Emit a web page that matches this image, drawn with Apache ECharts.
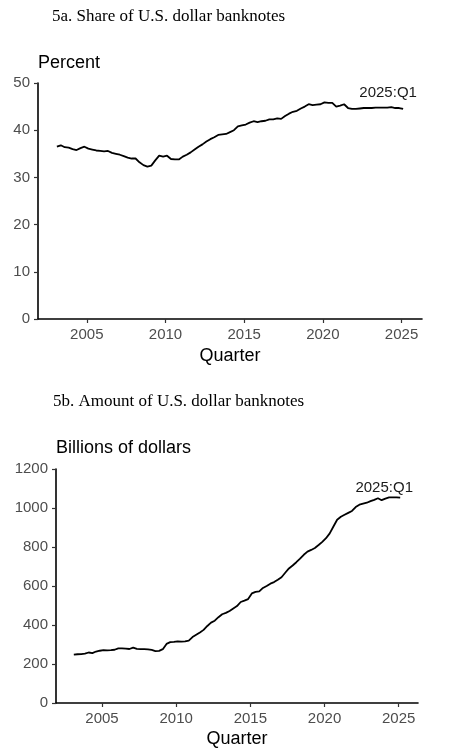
<!DOCTYPE html>
<html>
<head>
<meta charset="utf-8">
<script src="https://cdn.jsdelivr.net/npm/echarts@6/dist/echarts.min.js"></script>
<style type="text/css">
    html, body {
        margin: 0;
        padding: 0;
        background: #ffffff;
    }
    #chart_main {
        width: 450px;
        height: 755px;
    }
</style>
</head>
<body>
<div id="chart_main"></div>

<script>
    // quarterly data, 2003:Q1 .. 2025:Q1
    var firstYear = 2003;
    var xTicks = [2005, 2010, 2015, 2020, 2025];
    var lastLabel = '2025:Q1';

    // 5a. share of U.S. dollar banknotes, percent
    var shareValues = [
        36.5, 36.8, 36.4, 36.3,
        36.0, 35.8, 36.2, 36.5,
        36.1, 35.9, 35.7, 35.6,
        35.5, 35.6, 35.2, 35.0,
        34.8, 34.5, 34.2, 34.0,
        34.0, 33.2, 32.6, 32.3,
        32.5, 33.6, 34.6, 34.4,
        34.6, 33.9, 33.8, 33.8,
        34.4, 34.8, 35.3, 35.9,
        36.5, 37.0, 37.6, 38.1,
        38.5, 39.0, 39.1, 39.2,
        39.6, 40.0, 40.8, 41.0,
        41.2, 41.6, 41.9, 41.7,
        41.9, 42.0, 42.3, 42.3,
        42.5, 42.4, 43.0, 43.5,
        43.9, 44.1, 44.6, 45.0,
        45.5, 45.3, 45.4, 45.5,
        45.9, 45.8, 45.8, 45.0,
        45.2, 45.5, 44.7, 44.5,
        44.5, 44.6, 44.7, 44.7,
        44.7, 44.8, 44.8, 44.8,
        44.8, 44.9, 44.7, 44.7,
        44.5
    ];

    // 5b. amount of U.S. dollar banknotes, billions of dollars
    var amountValues = [
        248, 250, 251, 253,
        259, 256, 264, 268,
        271, 270, 271, 273,
        280, 280, 279, 277,
        284, 278, 276, 276,
        275, 272, 266, 267,
        276, 303, 312, 313,
        316, 315, 316, 320,
        338, 350, 362, 375,
        395, 412, 422, 440,
        455, 462, 472, 485,
        497, 518, 525, 533,
        562, 570, 572, 590,
        600, 612, 620, 632,
        645, 668, 690, 705,
        722, 740, 760, 776,
        785, 795, 810, 826,
        845, 870, 905, 940,
        955, 965, 975, 985,
        1005, 1017, 1022, 1027,
        1035, 1042, 1050, 1040,
        1048, 1054, 1055, 1055,
        1053
    ];

    var fontSans = '"Liberation Sans", Arial, Helvetica, sans-serif';
    var fontSerif = '"Liberation Serif", "Times New Roman", serif';

    // quarter index -> position on the time axis
    function toPoints(values) {
        var pts = [];
        for (var i = 0; i < values.length; i++) {
            pts.push([firstYear + i / 4 + 0.1, values[i]]);
        }
        return pts;
    }

    function plainNumber(v) {
        return String(v);
    }

    function makeXAxis(gridIndex, gap) {
        return {
            gridIndex: gridIndex,
            type: 'value',
            min: 2001.9,
            max: 2026.3,
            name: 'Quarter',
            nameLocation: 'middle',
            nameGap: gap,
            nameTextStyle: { fontFamily: fontSans, fontSize: 18, color: '#000', verticalAlign: 'middle' },
            axisLine: { show: true, onZero: false, lineStyle: { color: '#000', width: 1.6 } },
            axisTick: { show: true, length: 4, customValues: xTicks, lineStyle: { color: '#333', width: 1.2 } },
            axisLabel: {
                customValues: xTicks,
                formatter: plainNumber,
                margin: 8,
                fontFamily: fontSans,
                fontSize: 15,
                color: '#4d4d4d'
            },
            splitLine: { show: false }
        };
    }

    function makeYAxis(gridIndex, name, maxVal, step, gap) {
        return {
            gridIndex: gridIndex,
            type: 'value',
            min: 0,
            max: maxVal,
            interval: step,
            name: name,
            nameLocation: 'end',
            nameGap: gap,
            nameTextStyle: { fontFamily: fontSans, fontSize: 18, color: '#000', align: 'left', verticalAlign: 'middle' },
            axisLine: { show: true, lineStyle: { color: '#000', width: 1.6 } },
            axisTick: { show: true, length: 4, lineStyle: { color: '#333', width: 1.2 } },
            axisLabel: { formatter: plainNumber, margin: 8, fontFamily: fontSans, fontSize: 15, color: '#4d4d4d' },
            splitLine: { show: false }
        };
    }

    function makeSeries(idx, values, offset) {
        var pts = toPoints(values);
        var last = pts[pts.length - 1];
        return {
            type: 'line',
            xAxisIndex: idx,
            yAxisIndex: idx,
            data: pts,
            showSymbol: false,
            lineStyle: { color: '#000', width: 1.8 },
            markPoint: {
                symbol: 'circle',
                symbolSize: 2,
                silent: true,
                itemStyle: { color: 'rgba(0,0,0,0)' },
                label: {
                    show: true,
                    position: 'inside',
                    offset: offset,
                    formatter: lastLabel,
                    fontFamily: fontSans,
                    fontSize: 15,
                    color: '#1a1a1a'
                },
                data: [{ coord: last }]
            }
        };
    }

    var chart_main = echarts.init(document.getElementById('chart_main'));

    var option = {
        animation: false,
        backgroundColor: '#ffffff',
        graphic: [
            {
                type: 'text', left: 52, top: 8,
                style: { text: '5a. Share of U.S. dollar banknotes', font: '17px ' + fontSerif, fill: '#000' }
            },
            {
                type: 'text', left: 53, top: 393,
                style: { text: '5b. Amount of U.S. dollar banknotes', font: '17px ' + fontSerif, fill: '#000' }
            }
        ],
        grid: [
            { left: 38, right: 28, top: 83, height: 236 },
            { left: 56, right: 32, top: 469, height: 234 }
        ],
        xAxis: [makeXAxis(0, 37), makeXAxis(1, 36)],
        yAxis: [
            makeYAxis(0, 'Percent', 50, 10, 20),
            makeYAxis(1, 'Billions of dollars', 1200, 200, 21)
        ],
        series: [
            makeSeries(0, shareValues, [-15, -16]),
            makeSeries(1, amountValues, [-16, -10])
        ]
    };

    chart_main.setOption(option);
</script>
</body>
</html>
